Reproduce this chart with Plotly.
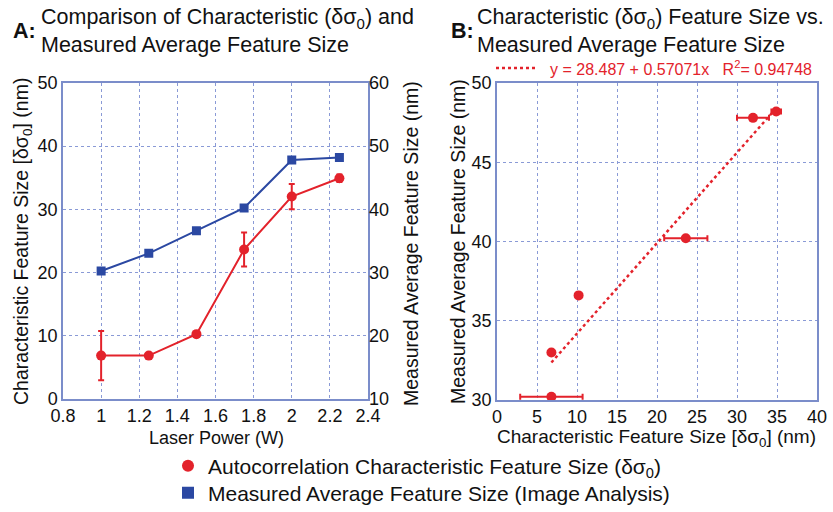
import plotly.graph_objects as go

# ---- data ----
laser_power = [1.0, 1.25, 1.5, 1.75, 2.0, 2.25]
char_size = [6.8, 6.8, 10.2, 23.6, 32.0, 34.9]          # δσ0 (nm)
char_err = [3.9, 0.3, 0.0, 2.7, 2.0, 0.6]
meas_size = [30.2, 33.0, 36.6, 40.2, 47.8, 48.2]        # image analysis (nm)
fit_intercept = 28.487
fit_slope = 0.57071
fit_r2 = 0.94748

RED = "#e3222b"
BLUE = "#2b48a2"
FRAME = "#7b8dca"
GRID = "#8a9ad6"
FONT = "Liberation Sans, Arial, sans-serif"

W, H = 833, 512
def px(x):
    return x / W
def py(y):
    return 1 - y / H

fig = go.Figure()

# Panel A
fig.add_trace(go.Scatter(
    x=laser_power, y=char_size, mode="lines+markers",
    line=dict(color=RED, width=2), marker=dict(color=RED, size=10, symbol="circle"),
    error_y=dict(type="data", array=char_err, visible=True, color=RED, thickness=2, width=3),
    xaxis="x", yaxis="y", showlegend=False))
fig.add_trace(go.Scatter(
    x=laser_power, y=meas_size, mode="lines+markers",
    line=dict(color=BLUE, width=2), marker=dict(color=BLUE, size=9, symbol="square"),
    xaxis="x", yaxis="y2", showlegend=False))

# Panel B
fx = [min(char_size), max(char_size)]
fy = [fit_intercept + fit_slope * v for v in fx]
fig.add_trace(go.Scatter(
    x=fx, y=fy, mode="lines", line=dict(color=RED, width=2.5, dash="dot"),
    xaxis="x2", yaxis="y3", showlegend=False))
fig.add_trace(go.Scatter(
    x=char_size, y=meas_size, mode="markers",
    marker=dict(color=RED, size=10, symbol="circle"),
    error_x=dict(type="data", array=char_err, visible=True, color=RED, thickness=2, width=3),
    xaxis="x2", yaxis="y3", showlegend=False))

# Legend entries (one legend box per row for precise spacing)
fig.add_trace(go.Scatter(x=[None], y=[None], mode="markers",
                         marker=dict(color=RED, size=17, symbol="circle"),
                         name="Autocorrelation Characteristic Feature Size (δσ<sub>0</sub>)",
                         legend="legend"))
fig.add_trace(go.Scatter(x=[None], y=[None], mode="markers",
                         marker=dict(color=BLUE, size=17, symbol="square"),
                         name="Measured Average Feature Size (Image Analysis)",
                         legend="legend2"))

axis_common = dict(showline=True, linecolor=FRAME, linewidth=1.5, mirror=True,
                   gridcolor=GRID, griddash="dot", gridwidth=1, zeroline=False,
                   ticks="", tickfont=dict(size=18, color="#111"), automargin=False)

leg_common = dict(x=px(168), xanchor="left", yanchor="middle",
                  font=dict(size=21, color="#111"), bgcolor="rgba(0,0,0,0)",
                  itemsizing="constant")

ybot, ytop = 398.5, 83
fig.update_layout(
    width=W, height=H, margin=dict(l=0, r=0, t=0, b=0, autoexpand=False),
    paper_bgcolor="white", plot_bgcolor="white",
    font=dict(family=FONT, color="#111"),
    xaxis=dict(domain=[px(63), px(368)], range=[0.8, 2.4],
               tickvals=[0.8, 1.0, 1.2, 1.4, 1.6, 1.8, 2.0, 2.2, 2.4],
               ticktext=["0.8", "1", "1.2", "1.4", "1.6", "1.8", "2", "2.2", "2.4"],
               anchor="y", **axis_common),
    yaxis=dict(domain=[py(ybot), py(ytop)], range=[0, 50], dtick=10, anchor="x", **axis_common),
    yaxis2=dict(range=[10, 60], dtick=10, overlaying="y", side="right", anchor="x",
                showgrid=False, showline=False, zeroline=False, ticks="",
                tickfont=dict(size=18, color="#111"), automargin=False),
    xaxis2=dict(domain=[px(497), px(817)], range=[0, 40], dtick=5, anchor="y3", **axis_common),
    yaxis3=dict(domain=[py(400), py(ytop)], range=[30, 50], dtick=5, anchor="x2", **axis_common),
    legend=dict(y=py(466), **leg_common),
    legend2=dict(y=py(493), **leg_common),
)

ann = []
def text(x, y, s, size=19, angle=0, xanchor="center", yanchor="middle", color="#111", align="left"):
    ann.append(dict(x=px(x), y=py(y), xref="paper", yref="paper", text=s, showarrow=False,
                    font=dict(size=size, color=color, family=FONT), textangle=angle,
                    xanchor=xanchor, yanchor=yanchor, align=align))

# Titles
text(11, 31, "<b>A:</b>", size=21.5, xanchor="left")
text(39, 31, "Comparison of Characteristic (δσ<sub>0</sub>) and<br>Measured Average Feature Size",
     size=21.5, xanchor="left")
text(449, 31, "<b>B:</b>", size=21.5, xanchor="left")
text(475, 31, "Characteristic (δσ<sub>0</sub>) Feature Size vs.<br>Measured Average Feature Size",
     size=21.5, xanchor="left")

# Axis titles
text(22, 242, "Characteristic Feature Size [δσ<sub>0</sub>] (nm)", angle=-90, size=19.5)
text(411, 244, "Measured Average Feature Size (nm)", angle=-90, size=19.5)
text(458, 242, "Measured Average Feature Size (nm)", angle=-90, size=19.5)
text(216, 438, "Laser Power (W)", size=18)
text(656, 438, "Characteristic Feature Size [δσ<sub>0</sub>] (nm)", size=19)

# Fit label
text(548, 68, f"y = {fit_intercept} + {fit_slope}x   R<sup>2</sup>= {fit_r2}",
     size=16, xanchor="left", color=RED)

fig.update_layout(annotations=ann)
fig.add_shape(type="line", xref="paper", yref="paper", x0=px(496), x1=px(538),
              y0=py(68), y1=py(68), line=dict(color=RED, width=2.5, dash="dot"))

fig.write_html("out.html")
